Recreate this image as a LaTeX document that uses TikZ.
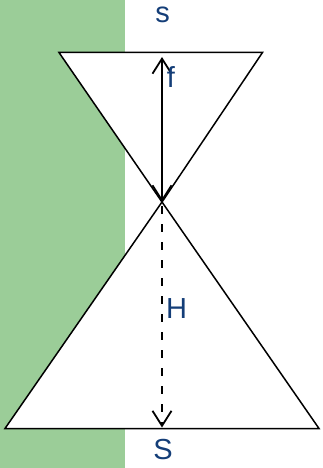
\documentclass[tikz,border=0pt]{standalone}
\usepackage{fontspec}
\setmainfont{Liberation Sans}
\usetikzlibrary{arrows.meta}
\definecolor{bandgreen}{RGB}{155,205,152}
\definecolor{labelblue}{RGB}{20,62,120}
\tikzset{
  cone/.style={draw=black, line width=1.5pt, fill=white, line join=miter},
  arrowline/.style={draw=black, line width=2pt},
  barbtip/.tip={Straight Barb[length=15pt, width=19pt, line width=1.8pt]},
  lbl/.style={text=labelblue, font=\fontsize{29}{34}\selectfont, anchor=base, inner sep=0pt}
}
\begin{document}
\begin{tikzpicture}[x=1pt, y=-1pt]
\useasboundingbox (0,0) rectangle (322,468);
\fill[bandgreen] (0,0) rectangle (125,468);
% points
\coordinate (apex) at (162,202);
\coordinate (ul) at (59,52.5);
\coordinate (ur) at (262.5,52.5);
\coordinate (bl) at (5,428.5);
\coordinate (br) at (319,428.5);
\coordinate (toptip) at (162,57);
\coordinate (dashstart) at (162,206);
\coordinate (bottip) at (162,427.5);
% cones
\path[cone] (apex) -- (bl) -- (br) -- cycle;
\path[cone] (apex) -- (ul) -- (ur) -- cycle;
% arrows
\draw[arrowline, barbtip-barbtip] (apex) -- (toptip);
\draw[arrowline, dash pattern=on 8pt off 10pt, -barbtip] (dashstart) -- (bottip);
% labels
\node[lbl] (s) at (162.5,22.5) {s};
\node[lbl] (f) at (171,88) {f};
\node[lbl] (H) at (176.5,318) {H};
\node[lbl] (S) at (163,459) {S};
\end{tikzpicture}
\end{document}
